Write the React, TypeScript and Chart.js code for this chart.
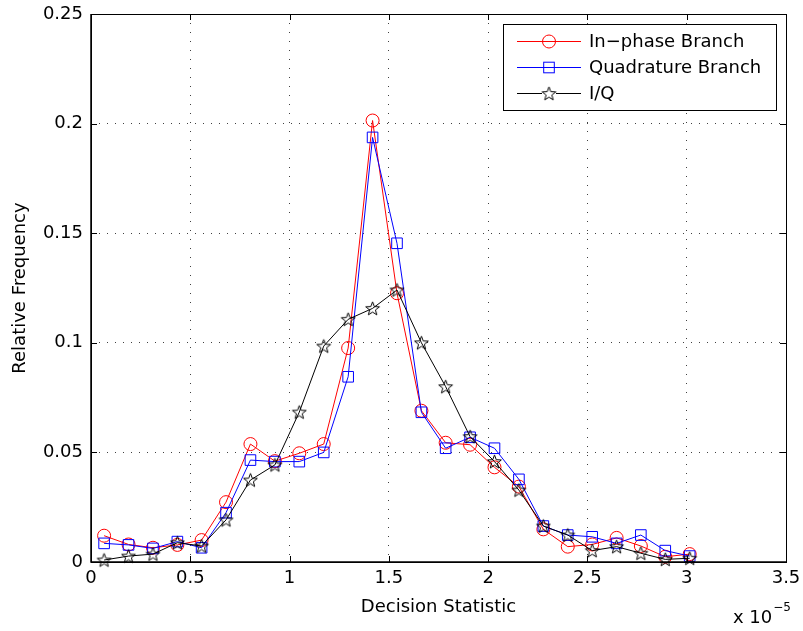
import React, { useEffect, useRef } from 'react';
import { Chart, registerables } from 'chart.js';

Chart.register(...registerables);

// ---- data (x in units of 1e-5) ----
const xValues = [0.066, 0.189, 0.312, 0.435, 0.557, 0.680, 0.803, 0.926, 1.049, 1.172, 1.295, 1.418, 1.541, 1.664, 1.786, 1.909, 2.032, 2.155, 2.278, 2.401, 2.524, 2.647, 2.769, 2.892, 3.015];
const inPhase = [0.012, 0.008, 0.0065, 0.0078, 0.010, 0.0273, 0.0538, 0.046, 0.0496, 0.0538, 0.0976, 0.2014, 0.1226, 0.069, 0.0544, 0.0535, 0.0432, 0.0344, 0.0149, 0.007, 0.008, 0.011, 0.0073, 0.0024, 0.0036];
const quadrature = [0.0085, 0.0078, 0.0062, 0.0093, 0.0065, 0.0225, 0.0465, 0.0458, 0.0458, 0.050, 0.0845, 0.1937, 0.1454, 0.0683, 0.0519, 0.0569, 0.0519, 0.0377, 0.0164, 0.0123, 0.0115, 0.0085, 0.0123, 0.0052, 0.0027];
const iq = [0.0009, 0.0027, 0.0036, 0.0088, 0.0073, 0.0192, 0.0374, 0.0443, 0.0684, 0.0985, 0.1107, 0.1157, 0.1241, 0.100, 0.080, 0.0572, 0.0458, 0.0328, 0.0164, 0.0123, 0.0052, 0.007, 0.004, 0.0012, 0.0017];

const seriesNames = ['In\u2212phase Branch', 'Quadrature Branch', 'I/Q'];
const xTickValues = [0, 0.5, 1, 1.5, 2, 2.5, 3, 3.5];
const xTickLabels = ['0', '0.5', '1', '1.5', '2', '2.5', '3', '3.5'];
const yTickValues = [0, 0.05, 0.1, 0.15, 0.2, 0.25];
const yTickLabels = ['0', '0.05', '0.1', '0.15', '0.2', '0.25'];
const xTitle = 'Decision Statistic';
const yTitle = 'Relative Frequency';
const xExpBase = 'x 10';
const xExpPower = '\u22125';

const FONT = "'DejaVu Sans', sans-serif";

function makePentagram(R: number): HTMLCanvasElement {
  const size = Math.ceil(2 * R + 4);
  const c = document.createElement('canvas');
  c.width = size;
  c.height = size;
  const g = c.getContext('2d')!;
  const cx = size / 2;
  const cy = size / 2 + 0.6;
  g.beginPath();
  for (let i = 0; i < 10; i++) {
    const r = i % 2 === 0 ? R : R * 0.42;
    const a = -Math.PI / 2 + (i * Math.PI) / 5;
    const px = cx + r * Math.cos(a);
    const py = cy + r * Math.sin(a);
    if (i === 0) g.moveTo(px, py);
    else g.lineTo(px, py);
  }
  g.closePath();
  g.lineJoin = 'miter';
  g.strokeStyle = '#000';
  g.lineWidth = 1;
  g.stroke();
  return c;
}

export default function App() {
  const ref = useRef<HTMLCanvasElement | null>(null);

  useEffect(() => {
    const canvas = ref.current;
    if (!canvas) return;
    const star = makePentagram(7.2);

    const matlabPlugin = {
      id: 'matlabFrame',
      afterDraw(chart: any) {
        const ctx: CanvasRenderingContext2D = chart.ctx;
        const { left, right, top, bottom } = chart.chartArea;
        const xs = chart.scales.x;
        const ys = chart.scales.y;
        ctx.save();
        ctx.strokeStyle = '#000';
        ctx.lineWidth = 1;
        const tl = 6;
        ctx.beginPath();
        xTickValues.forEach((v) => {
          const px = Math.round(xs.getPixelForValue(v)) + 0.5;
          ctx.moveTo(px, bottom);
          ctx.lineTo(px, bottom - tl);
          ctx.moveTo(px, top);
          ctx.lineTo(px, top + tl);
        });
        yTickValues.forEach((v) => {
          const py = Math.round(ys.getPixelForValue(v)) + 0.5;
          ctx.moveTo(left, py);
          ctx.lineTo(left + tl, py);
          ctx.moveTo(right, py);
          ctx.lineTo(right - tl, py);
        });
        ctx.stroke();
        // frame
        ctx.lineWidth = 1;
        ctx.strokeRect(Math.round(left) + 0.5, Math.round(top) + 0.5, Math.round(right - left), Math.round(bottom - top));
        ctx.lineWidth = 1.5;
        ctx.beginPath();
        ctx.moveTo(Math.round(left), Math.round(top));
        ctx.lineTo(Math.round(left), Math.round(bottom));
        ctx.lineTo(Math.round(right), Math.round(bottom));
        ctx.stroke();

        // legend
        const lx0 = 503.5, ly0 = 24.5, lx1 = 776.5, ly1 = 110.5;
        ctx.fillStyle = '#fff';
        ctx.fillRect(lx0, ly0, lx1 - lx0, ly1 - ly0);
        ctx.lineWidth = 1;
        ctx.strokeStyle = '#000';
        ctx.strokeRect(lx0, ly0, lx1 - lx0, ly1 - ly0);
        const colors = ['#ff0000', '#0000ff', '#000000'];
        const rows = [41.5, 67.5, 93.5];
        ctx.font = `18px ${FONT}`;
        ctx.textBaseline = 'middle';
        ctx.textAlign = 'left';
        rows.forEach((ry, i) => {
          ctx.strokeStyle = colors[i];
          ctx.lineWidth = 1;
          ctx.beginPath();
          ctx.moveTo(517, ry);
          ctx.lineTo(581, ry);
          ctx.stroke();
          if (i === 0) {
            ctx.beginPath();
            ctx.arc(549, ry, 6.5, 0, Math.PI * 2);
            ctx.stroke();
          } else if (i === 1) {
            ctx.strokeRect(549 - 5.3, ry - 5.3, 10.6, 10.6);
          } else {
            ctx.fillStyle = '#fff';
            ctx.fillRect(549 - 7, ry - 7, 14, 14);
            ctx.drawImage(star, 549 - star.width / 2, ry - star.height / 2);
          }
          ctx.fillStyle = '#000';
          ctx.fillText(seriesNames[i], 589, ry + 1);
        });

        // exponent label
        ctx.fillStyle = '#000';
        ctx.textBaseline = 'alphabetic';
        ctx.font = `18px ${FONT}`;
        ctx.fillText(xExpBase, 733, 623);
        const w = ctx.measureText(xExpBase).width;
        ctx.font = `12px ${FONT}`;
        ctx.fillText(xExpPower, 733 + w + 1, 611);
        ctx.restore();
      },
    };

    const chart = new Chart(canvas, {
      type: 'line',
      data: {
        datasets: [
          {
            label: seriesNames[0],
            data: xValues.map((x, i) => ({ x, y: inPhase[i] })),
            borderColor: '#ff0000',
            backgroundColor: 'rgba(0,0,0,0)',
            borderWidth: 1,
            pointStyle: 'circle',
            pointRadius: 6.5,
            pointBorderWidth: 1,
            pointBorderColor: '#ff0000',
            pointBackgroundColor: 'rgba(0,0,0,0)',
            tension: 0,
            clip: false,
            order: 3,
          },
          {
            label: seriesNames[1],
            data: xValues.map((x, i) => ({ x, y: quadrature[i] })),
            borderColor: '#0000ff',
            backgroundColor: 'rgba(0,0,0,0)',
            borderWidth: 1,
            pointStyle: 'rect',
            pointRadius: 7.5,
            pointBorderWidth: 1,
            pointBorderColor: '#0000ff',
            pointBackgroundColor: 'rgba(0,0,0,0)',
            tension: 0,
            clip: false,
            order: 2,
          },
          {
            label: seriesNames[2],
            data: xValues.map((x, i) => ({ x, y: iq[i] })),
            borderColor: '#000000',
            backgroundColor: 'rgba(0,0,0,0)',
            borderWidth: 1,
            pointStyle: star as any,
            pointRadius: 7,
            pointBorderWidth: 1,
            pointBorderColor: '#000',
            pointBackgroundColor: 'rgba(0,0,0,0)',
            tension: 0,
            clip: false,
            order: 1,
          },
        ],
      },
      options: {
        animation: false,
        responsive: false,
        devicePixelRatio: 1,
        layout: { padding: { top: 14, right: 17, bottom: 0, left: 0 } },
        plugins: {
          legend: { display: false },
          tooltip: { enabled: false },
        },
        scales: {
          x: {
            type: 'linear',
            min: 0,
            max: 3.5,
            afterFit: (s: any) => {
              s.height = 69;
              s.paddingLeft = 0;
              s.paddingRight = 0;
            },
            afterBuildTicks: (s: any) => {
              s.ticks = xTickValues.map((v) => ({ value: v }));
            },
            ticks: {
              color: '#000',
              font: { family: FONT, size: 18 },
              padding: 6,
              maxRotation: 0,
              autoSkip: false,
              callback: (_v: any, i: number) => xTickLabels[i],
            },
            grid: {
              color: 'rgba(0,0,0,0.75)',
              lineWidth: 1,
              drawTicks: false,
            },
            border: { display: false, dash: [1, 8] },
            title: {
              display: true,
              text: xTitle,
              color: '#000',
              font: { family: FONT, size: 18 },
              padding: { top: 0, bottom: 13 },
            },
          },
          y: {
            type: 'linear',
            min: 0,
            max: 0.25,
            afterFit: (s: any) => {
              s.width = 91;
              s.paddingTop = 0;
              s.paddingBottom = 0;
            },
            afterBuildTicks: (s: any) => {
              s.ticks = yTickValues.map((v) => ({ value: v }));
            },
            ticks: {
              color: '#000',
              font: { family: FONT, size: 18 },
              padding: 8,
              autoSkip: false,
              callback: (_v: any, i: number) => yTickLabels[i],
            },
            grid: {
              color: 'rgba(0,0,0,0.75)',
              lineWidth: 1,
              drawTicks: false,
            },
            border: { display: false, dash: [1, 7] },
            title: {
              display: true,
              text: yTitle,
              color: '#000',
              font: { family: FONT, size: 18 },
              padding: { top: 10, bottom: 0 },
            },
          },
        },
      },
      plugins: [matlabPlugin],
    } as any);

    return () => {
      chart.destroy();
    };
  }, []);

  return (
    <div style={{ position: 'absolute', left: 0, top: 0, width: 803, height: 631, background: '#fff' }}>
      <canvas ref={ref} width={803} height={631} style={{ display: 'block', width: 803, height: 631 }} />
    </div>
  );
}
